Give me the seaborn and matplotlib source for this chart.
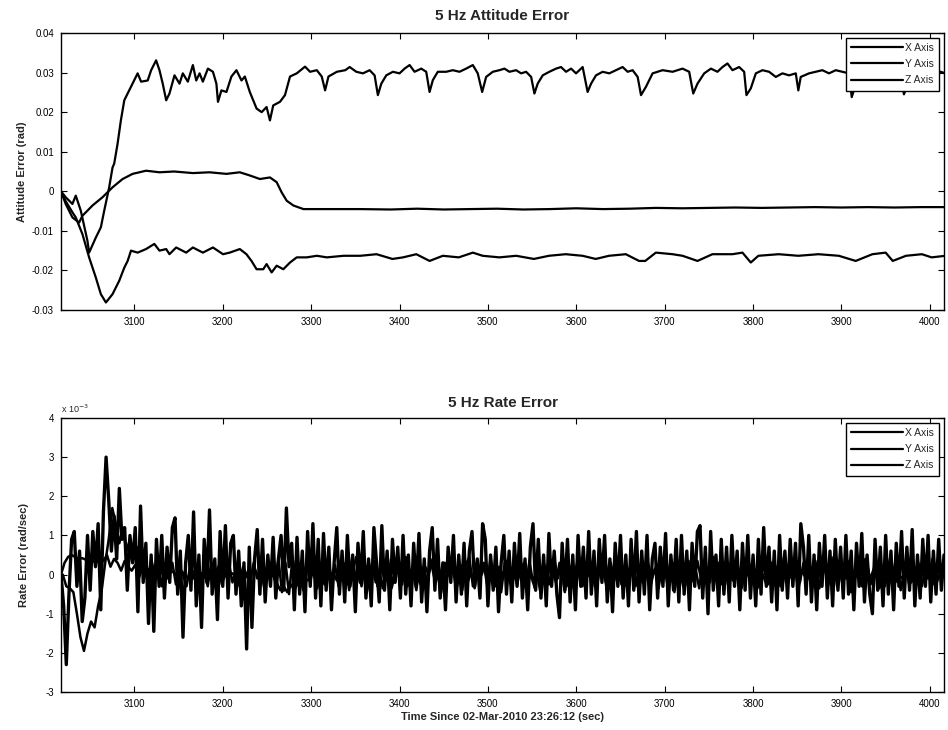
import numpy as np
import pandas as pd
import matplotlib
matplotlib.use("Agg")
import matplotlib.pyplot as plt
import seaborn as sns

# ---------------- data: 5 Hz attitude error (rad) ----------------
att_x_t = [3017, 3022.3, 3029.9, 3033.7, 3039.4, 3046.9, 3048.8, 3056.4, 3062.1, 3065.9,
           3071.5, 3075.3, 3077.2, 3081.0, 3084.8, 3088.6, 3096.2, 3103.7, 3107.6, 3115.1,
           3119.0, 3124.6, 3128.4, 3132.1, 3136.0, 3139.7, 3145.4, 3151.1, 3154.8, 3160.5,
           3166.2, 3170.0, 3173.8, 3177.5, 3183.2, 3188.9, 3192.8, 3194.6, 3198.5, 3204.2,
           3209.8, 3215.5, 3221.2, 3225.0, 3230.6, 3238.3, 3244.0, 3249.6, 3253.4, 3257.1,
           3264.7, 3270.4, 3276.1, 3283.7, 3293.1, 3298.8, 3306.4, 3312.0, 3315.8, 3319.6,
           3329.1, 3338.6, 3343.6, 3351.1, 3358.6, 3366.2, 3371.8, 3375.5, 3379.4, 3385.0,
           3392.5, 3400.0, 3405.7, 3411.4, 3417.0, 3424.6, 3430.2, 3434.0, 3437.7, 3443.3,
           3452.8, 3460.3, 3467.8, 3475.4, 3482.9, 3488.5, 3493.5, 3498.0, 3505.5, 3513.0,
           3518.7, 3524.3, 3531.9, 3537.6, 3543.2, 3548.9, 3552.6, 3556.3, 3562.0, 3569.5,
           3577.1, 3582.7, 3588.4, 3594.1, 3599.7, 3607.2, 3612.8, 3616.7, 3622.3, 3629.8,
           3637.3, 3644.9, 3652.4, 3658.1, 3663.7, 3669.4, 3673.2, 3678.8, 3686.3, 3697.6,
           3708.9, 3720.2, 3727.7, 3732.3, 3737.1, 3744.7, 3752.3, 3759.7, 3765.4, 3771.0,
           3776.7, 3784.2, 3789.9, 3792.5, 3797.4, 3803.1, 3810.6, 3818.1, 3825.7, 3833.2,
           3840.7, 3848.3, 3851.2, 3853.9, 3863.3, 3870.9, 3878.4, 3885.9, 3893.5, 3901.0,
           3908.5, 3911.6, 3916.1, 3925.0, 3940.0, 3955.0, 3966.0, 3970.7, 3975.0, 3990.0,
           4000.0, 4012.1, 4017.8]
att_x_v = [0.0, -0.0015, -0.0032, -0.0011, -0.0049, -0.0125, -0.0155, -0.0117, -0.0091, -0.0049,
           0.0010, 0.0060, 0.0070, 0.0120, 0.0180, 0.0230, 0.0264, 0.0298, 0.0277, 0.0280,
           0.0306, 0.0331, 0.0306, 0.0272, 0.0230, 0.0247, 0.0293, 0.0272, 0.0298, 0.0277,
           0.0319, 0.0280, 0.0298, 0.0277, 0.0310, 0.0302, 0.0272, 0.0226, 0.0255, 0.0251,
           0.0290, 0.0306, 0.0280, 0.0290, 0.0251, 0.0209, 0.0200, 0.0213, 0.0179, 0.0217,
           0.0226, 0.0243, 0.0290, 0.0298, 0.0315, 0.0302, 0.0306, 0.0290, 0.0255, 0.0290,
           0.0302, 0.0306, 0.0314, 0.0302, 0.0298, 0.0306, 0.0293, 0.0243, 0.0272, 0.0293,
           0.0302, 0.0298, 0.0310, 0.0319, 0.0302, 0.0310, 0.0302, 0.0251, 0.0281, 0.0302,
           0.0302, 0.0306, 0.0302, 0.0310, 0.0319, 0.0298, 0.0251, 0.0289, 0.0302, 0.0306,
           0.0310, 0.0302, 0.0306, 0.0298, 0.0302, 0.0289, 0.0247, 0.0272, 0.0293, 0.0302,
           0.0310, 0.0314, 0.0302, 0.0310, 0.0298, 0.0314, 0.0251, 0.0272, 0.0293, 0.0302,
           0.0298, 0.0306, 0.0314, 0.0302, 0.0306, 0.0289, 0.0243, 0.0264, 0.0298, 0.0306,
           0.0302, 0.0310, 0.0302, 0.0247, 0.0272, 0.0298, 0.0310, 0.0302, 0.0314, 0.0323,
           0.0306, 0.0314, 0.0302, 0.0243, 0.0260, 0.0298, 0.0306, 0.0302, 0.0289, 0.0298,
           0.0293, 0.0298, 0.0255, 0.0289, 0.0298, 0.0302, 0.0306, 0.0298, 0.0306, 0.0302,
           0.0298, 0.0238, 0.0270, 0.0300, 0.0310, 0.0305, 0.0300, 0.0245, 0.0272, 0.0300,
           0.0306, 0.0302, 0.0298]

att_y_t = [3017, 3022.3, 3029.9, 3037.5, 3041.2, 3052.6, 3064.0, 3075.3, 3086.7, 3098.0,
           3113.2, 3128.4, 3145.0, 3166.2, 3185.0, 3204.2, 3219.3, 3230.6, 3242.0, 3253.4,
           3261.0, 3266.7, 3272.4, 3280.0, 3291.3, 3317.8, 3355.6, 3390.0, 3420.0, 3450.0,
           3480.0, 3510.0, 3540.0, 3570.0, 3600.0, 3630.0, 3660.0, 3690.0, 3720.0, 3750.0,
           3780.0, 3810.0, 3840.0, 3870.0, 3900.0, 3930.0, 3960.0, 3990.0, 4017.8]
att_y_v = [0.0, -0.0032, -0.0066, -0.0079, -0.0062, -0.0036, -0.0015, 0.0010, 0.0031, 0.0044,
           0.0052, 0.0048, 0.0050, 0.0046, 0.0048, 0.0044, 0.0048, 0.0040, 0.0031, 0.0035,
           0.0023, -0.0003, -0.0024, -0.0036, -0.0045, -0.0045, -0.0045, -0.0046, -0.0044, -0.0046,
           -0.0045, -0.0044, -0.0046, -0.0045, -0.0043, -0.0045, -0.0044, -0.0042, -0.0043, -0.0042,
           -0.0041, -0.0042, -0.0041, -0.0040, -0.0041, -0.0040, -0.0041, -0.0040, -0.0040]

att_z_t = [3017, 3022.3, 3029.9, 3033.7, 3041.2, 3048.8, 3056.4, 3062.1, 3067.8, 3075.3,
           3082.9, 3088.6, 3092.4, 3096.2, 3103.7, 3113.2, 3122.6, 3128.4, 3136.0, 3139.7,
           3147.3, 3158.6, 3166.2, 3177.5, 3188.9, 3200.3, 3207.8, 3219.3, 3226.8, 3232.5,
           3238.3, 3245.8, 3249.6, 3255.3, 3261.0, 3268.5, 3276.1, 3283.7, 3295.0, 3306.4,
           3317.8, 3336.7, 3355.6, 3374.0, 3392.0, 3404.0, 3419.0, 3434.0, 3449.0, 3467.0,
           3483.0, 3494.0, 3513.0, 3532.0, 3552.0, 3569.0, 3588.0, 3607.0, 3622.0, 3637.0,
           3656.0, 3671.0, 3678.0, 3690.0, 3708.9, 3720.2, 3737.1, 3754.0, 3776.7, 3788.0,
           3797.4, 3806.0, 3829.0, 3851.2, 3874.0, 3897.0, 3916.1, 3935.0, 3950.0, 3958.0,
           3973.0, 3991.0, 4002.0, 4017.8]
att_z_v = [0.0, -0.0025, -0.0053, -0.0066, -0.0108, -0.0167, -0.0218, -0.0260, -0.0281, -0.0260,
           -0.0226, -0.0193, -0.0176, -0.0150, -0.0155, -0.0146, -0.0133, -0.0150, -0.0146, -0.0159,
           -0.0142, -0.0155, -0.0142, -0.0155, -0.0142, -0.0159, -0.0155, -0.0146, -0.0159, -0.0176,
           -0.0197, -0.0197, -0.0184, -0.0205, -0.0188, -0.0197, -0.0180, -0.0167, -0.0167, -0.0163,
           -0.0167, -0.0163, -0.0163, -0.0159, -0.0171, -0.0167, -0.0159, -0.0176, -0.0163, -0.0167,
           -0.0155, -0.0163, -0.0167, -0.0163, -0.0171, -0.0163, -0.0159, -0.0163, -0.0171, -0.0163,
           -0.0159, -0.0176, -0.0176, -0.0155, -0.0159, -0.0163, -0.0176, -0.0159, -0.0159, -0.0155,
           -0.0180, -0.0163, -0.0159, -0.0163, -0.0159, -0.0163, -0.0176, -0.0159, -0.0155, -0.0176,
           -0.0163, -0.0159, -0.0167, -0.0163]

# ---------------- data: 5 Hz rate error (x 1e-3 rad/sec) ----------------
rate_x_t0, rate_x_dt = 3017, 3
rate_x = [0.0, -0.8, -2.3, -0.5, 0.9, 1.1, -0.3, 0.6, -1.2, -0.6,
          1.0, -0.4, 1.1, 0.2, 1.3, -0.9, 1.6, 3.0, 1.9, 0.6,
          1.5, 0.4, 2.2, 0.9, 1.2, -0.4, 1.0, 0.3, 1.2, -0.95,
          1.75, -0.2, 0.8, -1.25, 0.5, -1.45, 0.9, -0.3, 1.0, -0.6,
          0.7, -0.2, 1.2, 1.45, -0.5, 0.6, -1.6, 0.3, 1.0, -0.4,
          1.6, -0.8, 0.5, -1.35, 0.9, -0.2, 1.65, -0.5, 0.4, -1.15,
          1.1, -0.3, 1.25, -0.6, 0.8, 1.0, -0.5, 0.6, -0.8, 0.3,
          -1.9, 0.7, -1.35, 0.4, 1.15, -0.5, 0.9, -0.7, 0.5, -0.3,
          0.95, -0.6, 0.4, 1.0, -0.4, 1.7, 0.2, 0.8, -0.9, 0.95,
          -0.5, 0.6, -0.95, 1.1, -0.3, 1.3, -0.6, 0.9, -0.8, 1.05,
          -0.4, 0.7, -0.9, 0.3, 1.2, -0.5, 0.6, -0.7, 1.0, -0.3,
          0.5, -0.95, 0.8, -0.2, 1.1, -0.6, 0.4, -0.8, 1.2, 0.3,
          -0.7, 1.25, -0.4, 0.6, -0.9, 0.9, -0.2, 0.7, -0.6, 1.0,
          -0.5, 0.5, -0.8, 0.8, -0.3, 1.05, -0.7, 0.4, -0.95, 0.6,
          1.2, -0.4, 0.9, -0.6, 0.3, -0.9, 0.7, -0.2, 1.0, -0.7,
          0.5, -0.5, 0.8, -0.8, 0.6, 1.1, -0.3, 0.4, -0.6, 1.3,
          0.9, -0.8, 0.5, -0.4, 0.7, -0.95, 0.3, 1.0, -0.5, 0.6,
          -0.7, 0.8, -0.3, 1.05, -0.6, 0.4, -0.9, 0.7, 1.3, -0.4,
          0.9, -0.6, 0.5, -0.8, 1.05, -0.3, 0.6, -0.5, -1.1, 0.8,
          -0.4, 0.9, -0.7, 0.5, -0.9, 1.0, -0.3, 0.7, -0.6, 1.1,
          -0.5, 0.6, -0.8, 0.9, -0.2, 1.0, -0.7, 0.4, -0.95, 0.8,
          -0.3, 1.0, -0.6, 0.5, -0.8, 0.9, -0.4, 1.1, -0.7, 0.6,
          -0.5, 1.0, -0.9, 0.4, 0.8, -0.6, 0.7, -0.3, 1.05, -0.8,
          0.5, -0.4, 0.9, -0.7, 1.0, -0.5, 0.6, -0.9, 0.8, -0.3,
          1.1, 1.25, -0.6, 0.7, -1.0, 1.1, -0.4, 0.5, -0.8, 0.9,
          -0.5, 0.7, -0.7, 1.0, -0.3, 0.6, -0.9, 0.8, -0.4, 1.0,
          -0.6, 0.5, -0.8, 0.9, -0.5, 1.2, -0.3, 0.7, -0.7, 0.6,
          -0.9, 1.0, -0.4, 0.6, -0.6, 0.9, -0.3, 0.8, -0.8, 1.3,
          0.7, -0.5, 1.0, -0.7, 0.5, -0.9, 0.8, -0.3, 1.0, -0.6,
          0.6, -0.8, 0.9, -0.4, 0.7, -0.6, 1.0, -0.5, 0.6, -0.9,
          0.8, -0.3, 1.05, -0.7, 0.5, -0.5, -1.0, 0.9, -0.4, 0.7,
          -0.8, 1.0, -0.5, 0.6, -0.9, 0.8, -0.3, 1.1, -0.6, 0.7,
          -0.4, 1.15, -0.8, 0.5, -0.6, 0.9, -0.3, 1.0, -0.7, 0.6,
          -0.5, 0.9, -0.4, 0.5]

rate_y_t0, rate_y_dt = 3017, 4
rate_y = [0.0, 0.3, 0.45, 0.5, 0.45, 0.4, 0.42, 0.38, 0.4, 0.35,
          0.3, 0.45, 0.35, 0.5, 0.2, 0.4, 0.3, 0.1, 0.35, 0.2,
          0.1, 0.25, -0.1, 0.2, 0.05, 0.15, -0.05, 0.1, 0.0, 0.15,
          -0.1, 0.1, 0.05, -0.05, 0.1, 0.0, -0.1, 0.05, 0.1, -0.05,
          0.05, -0.1, 0.1, 0.0, 0.05, -0.05, 0.1, -0.1, 0.05, 0.0,
          -0.05, 0.1, 0.0, -0.1, 0.05, 0.1, -0.05, 0.0, 0.05, -0.1,
          0.0, -0.2, -0.4, -0.3, -0.45, -0.25, -0.4, -0.2, -0.3, -0.1,
          -0.15, 0.05, -0.1, 0.1, -0.05, 0.15, -0.1, 0.05, -0.15, 0.1,
          0.2, -0.25, 0.3, -0.1, 0.15, -0.3, 0.25, -0.05, 0.3, -0.2,
          0.1, -0.35, 0.2, 0.05, -0.2, 0.3, -0.15, 0.2, -0.3, 0.1,
          0.25, -0.1, -0.3, 0.2, 0.0, 0.35, -0.2, 0.1, -0.25, 0.3,
          -0.05, 0.2, -0.3, 0.15, 0.3, -0.2, 0.05, -0.35, 0.25, 0.0,
          0.3, -0.15, 0.1, -0.3, 0.2, -0.05, 0.35, -0.2, 0.05, -0.25,
          0.15, 0.3, -0.2, 0.0, -0.35, 0.25, -0.1, 0.2, -0.25, 0.1,
          -0.2, 0.3, 0.05, -0.3, 0.2, -0.1, 0.3, -0.25, 0.1, 0.0,
          0.25, -0.3, 0.15, -0.05, 0.3, -0.2, 0.0, 0.35, -0.15, 0.1,
          -0.3, 0.2, -0.1, 0.25, 0.05, -0.25, 0.3, -0.1, 0.15, -0.35,
          0.2, 0.0, -0.2, 0.3, -0.15, 0.1, -0.3, 0.25, 0.05, -0.2,
          0.35, -0.1, 0.15, -0.3, 0.2, -0.05, 0.3, -0.25, 0.0, 0.2,
          -0.15, 0.3, -0.3, 0.1, 0.25, -0.2, 0.05, -0.35, 0.2, 0.1,
          -0.25, 0.3, -0.05, 0.15, -0.3, 0.25, -0.1, 0.2, 0.0, -0.2,
          0.3, -0.15, 0.1, -0.3, 0.35, -0.05, 0.2, -0.25, 0.1, 0.0,
          -0.2, 0.25, -0.1, 0.3, -0.3, 0.05, 0.2, -0.15, 0.3, -0.25,
          0.1, -0.05, 0.25, -0.3, 0.15, 0.3, -0.2, 0.0, -0.1, 0.2,
          -0.3, 0.25, 0.05, -0.2, 0.3, -0.1, 0.15, -0.25, 0.2, 0.0,
          0.1]

rate_z_t0, rate_z_dt = 3019, 4
rate_z = [0.0, -0.3, -0.35, -0.45, -1.0, -1.6, -1.95, -1.5, -1.2, -1.35,
          -0.8, -0.4, 0.3, 0.9, 1.7, 1.3, 0.8, 1.2, 0.6, 0.9,
          0.4, 0.7, 0.1, 0.5, -0.2, 0.4, 0.0, 0.3, -0.3, 0.2,
          -0.1, 0.3, -0.25, 0.15, 0.0, -0.3, 0.2, -0.1, 0.25, -0.2,
          0.1, -0.3, 0.3, -0.05, 0.2, -0.25, 0.05, 0.3, -0.2, 0.1,
          -0.3, 0.2, 0.0, -0.2, 0.3, -0.1, 0.15, -0.35, 0.1, 0.25,
          -0.15, 0.4, -0.45, 0.3, -0.5, 0.45, -0.3, 0.2, -0.4, 0.35,
          -0.2, 0.3, -0.35, 0.15, -0.25, 0.4, -0.1, 0.25, -0.3, 0.1,
          0.3, -0.4, 0.1, 0.45, -0.2, 0.25, -0.45, 0.05, 0.35, -0.3,
          0.2, -0.1, 0.4, -0.35, 0.0, 0.3, -0.25, 0.45, -0.15, 0.1,
          -0.4, 0.25, 0.1, -0.3, 0.4, -0.05, 0.2, -0.45, 0.3, 0.0,
          0.35, -0.2, 0.15, -0.4, 0.25, 0.45, -0.3, 0.05, -0.15, 0.3,
          -0.25, 0.4, -0.1, 0.2, -0.45, 0.3, 0.0, -0.35, 0.45, -0.05,
          0.15, -0.3, 0.35, -0.2, 0.1, -0.4, 0.3, 0.05, -0.25, 0.4,
          -0.1, 0.25, -0.45, 0.3, 0.0, -0.2, 0.45, -0.3, 0.15, -0.05,
          0.35, -0.35, 0.2, 0.05, -0.4, 0.3, -0.15, 0.4, -0.25, 0.1,
          -0.05, 0.45, -0.3, 0.15, -0.2, 0.35, -0.4, 0.0, 0.25, -0.1,
          0.3, -0.25, 0.4, -0.45, 0.1, 0.2, -0.3, 0.35, -0.05, 0.15,
          -0.35, 0.3, 0.0, -0.2, 0.45, -0.1, 0.25, -0.4, 0.1, 0.3,
          -0.15, 0.2, -0.35, 0.4, -0.05, 0.3, -0.45, 0.15, 0.0, -0.25,
          0.35, -0.1, 0.2, -0.3, 0.45, -0.2, 0.05, 0.3, -0.4, 0.1,
          -0.05, 0.4, -0.25, 0.15, -0.35, 0.3, 0.0, -0.2, 0.45, -0.3,
          0.2, -0.1, 0.35, -0.45, 0.1, 0.25, -0.3, 0.4, -0.15, 0.05,
          0.3, -0.35, 0.15, -0.05, 0.4, -0.25, 0.2, -0.4, 0.1, 0.35,
          -0.2, 0.05, 0.3, -0.3, 0.15, -0.1, 0.4, -0.25, 0.0, 0.2]

legend_labels = ["X Axis", "Y Axis", "Z Axis"]
x_ticks = [3100, 3200, 3300, 3400, 3500, 3600, 3700, 3800, 3900, 4000]
att_ticks = [0.04, 0.03, 0.02, 0.01, 0.0, -0.01, -0.02, -0.03]
att_tick_labels = ["0.04", "0.03", "0.02", "0.01", "0", "-0.01", "-0.02", "-0.03"]
rate_ticks = [4, 3, 2, 1, 0, -1, -2, -3]
rate_tick_labels = ["4", "3", "2", "1", "0", "-1", "-2", "-3"]

# ---------------- plotting ----------------
sns.set_theme(style="white")
plt.rcParams["font.family"] = ["Liberation Sans", "DejaVu Sans"]

W, H = 948, 730
fig = plt.figure(figsize=(W / 100, H / 100), dpi=100)
ax1 = fig.add_axes([61 / W, 1 - 310 / H, (944 - 61) / W, (310 - 33) / H])
ax2 = fig.add_axes([61 / W, 1 - 692 / H, (944 - 61) / W, (692 - 418) / H])

att = [(att_x_t, att_x_v), (att_y_t, att_y_v), (att_z_t, att_z_v)]
for (t, v), lab in zip(att, legend_labels):
    df = pd.DataFrame({"t": t, "v": v})
    sns.lineplot(data=df, x="t", y="v", ax=ax1, color="black", lw=1.6,
                 label=lab, sort=False, estimator=None)

rates = [(rate_x_t0, rate_x_dt, rate_x, 2.4), (rate_y_t0, rate_y_dt, rate_y, 1.8),
         (rate_z_t0, rate_z_dt, rate_z, 1.8)]
for (t0, dt, v, lw), lab in zip(rates, legend_labels):
    t = t0 + dt * np.arange(len(v))
    df = pd.DataFrame({"t": t, "v": v})
    sns.lineplot(data=df, x="t", y="v", ax=ax2, color="black", lw=lw,
                 label=lab, sort=False, estimator=None)

for ax in (ax1, ax2):
    ax.set_xlim(3017, 4016)
    ax.set_xticks(x_ticks)
    ax.set_xticklabels([str(v) for v in x_ticks])
    ax.tick_params(direction="in", length=4, width=0.8, top=True, right=True,
                   bottom=True, left=True, labelsize=7, colors="black", pad=5)
    for s in ax.spines.values():
        s.set_color("black")
        s.set_linewidth(1.0)
        s.set_visible(True)
    ax.set_xlabel("")
    leg = ax.legend(loc="upper right", frameon=True, fancybox=False, fontsize=7.5,
                    handlelength=5.0, handletextpad=0.2, labelspacing=0.6,
                    borderpad=0.5, borderaxespad=0.45, edgecolor="black",
                    framealpha=1.0, facecolor="white")
    leg.get_frame().set_linewidth(1.0)
    leg.get_frame().set_boxstyle("square", pad=0.0)
    for line in leg.get_lines():
        line.set_linewidth(1.6)

ax1.set_ylim(-0.03, 0.04)
ax1.set_yticks(att_ticks)
ax1.set_yticklabels(att_tick_labels)
ax1.set_ylabel("Attitude Error (rad)", fontsize=8, fontweight="bold", labelpad=4)
ax1.set_title("5 Hz Attitude Error", fontsize=11, fontweight="bold", pad=9)

ax2.set_ylim(-3, 4)
ax2.set_yticks(rate_ticks)
ax2.set_yticklabels(rate_tick_labels)
ax2.set_ylabel("Rate Error (rad/sec)", fontsize=8, fontweight="bold", labelpad=12)
ax2.set_title("5 Hz Rate Error", fontsize=11, fontweight="bold", pad=8)
ax2.set_xlabel("Time Since 02-Mar-2010 23:26:12 (sec)", fontsize=8,
               fontweight="bold", labelpad=2)
ax2.text(0.0, 1.012, r"x 10$^{-3}$", transform=ax2.transAxes, fontsize=6.5,
         ha="left", va="bottom")

fig.savefig("out.png", dpi=100, facecolor="white")
